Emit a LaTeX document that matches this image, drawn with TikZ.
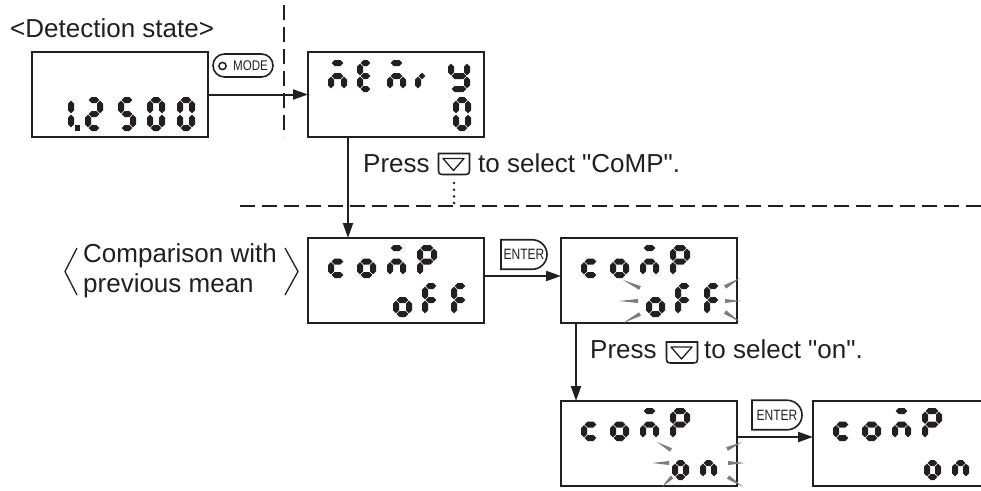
\documentclass[tikz,border=0pt]{standalone}
\usepackage{fontspec}
\setmainfont{Liberation Sans}[Ligatures=TeXOff]
\usetikzlibrary{arrows.meta,calc}
\definecolor{ink}{HTML}{231F20}
\definecolor{flashc}{HTML}{7C7C7C}
\newcommand\sgT{6}
\newcommand\sgG{0.7}
\newcommand\HSeg[3]{\fill[ink] ({#1},{#3}) -- ({#1+\sgT/2},{#3-\sgT/2}) -- ({#2-\sgT/2},{#3-\sgT/2}) -- ({#2},{#3}) -- ({#2-\sgT/2},{#3+\sgT/2}) -- ({#1+\sgT/2},{#3+\sgT/2}) -- cycle;}
\newcommand\VSeg[3]{\fill[ink] ({#1},{#2}) -- ({#1+\sgT/2},{#2+\sgT/2}) -- ({#1+\sgT/2},{#3-\sgT/2}) -- ({#1},{#3}) -- ({#1-\sgT/2},{#3-\sgT/2}) -- ({#1-\sgT/2},{#2+\sgT/2}) -- cycle;}
\newcommand\Sega{\HSeg{\sgT/2+\sgG}{\sgW-\sgT/2-\sgG}{\sgT/2}}
\newcommand\Segg{\HSeg{\sgT/2+\sgG}{\sgW-\sgT/2-\sgG}{\sgH/2}}
\newcommand\Segd{\HSeg{\sgT/2+\sgG}{\sgW-\sgT/2-\sgG}{\sgH-\sgT/2}}
\newcommand\Segf{\VSeg{\sgT/2}{\sgT/2+\sgG}{\sgH/2-\sgG}}
\newcommand\Segb{\VSeg{\sgW-\sgT/2}{\sgT/2+\sgG}{\sgH/2-\sgG}}
\newcommand\Sege{\VSeg{\sgT/2}{\sgH/2+\sgG}{\sgH-\sgT/2-\sgG}}
\newcommand\Segc{\VSeg{\sgW-\sgT/2}{\sgH/2+\sgG}{\sgH-\sgT/2-\sgG}}
\newcommand\Dig[5]{\begin{scope}[shift={(#1,#2)}]\pgfmathsetmacro\sgW{#3}\pgfmathsetmacro\sgH{#4}\foreach \s in {#5}{\csname Seg\s\endcsname}\end{scope}}
\newcommand\CompTop{\Dig{20}{7}{19}{33}{g,e,d}\Dig{49}{7}{19}{33}{g,c,d,e}\Dig{79}{7}{19}{33}{a,g,e,c}\Dig{109}{7}{20}{33}{a,b,f,g,e}}
\newcommand\OffRow{\Dig{85}{45}{19}{34}{g,c,d,e}\Dig{114}{45}{18}{34}{a,f,g,e}\Dig{143}{45}{18}{34}{a,f,g,e}}
\newcommand\OnRow{\Dig{111}{45}{17}{34}{g,c,d,e}\Dig{139}{45}{17}{34}{g,e,c}}
\newcommand\Flash[2]{\fill[flashc] (#1) -- ($(#2)!2pt!90:(#1)$) -- ($(#2)!2pt!-90:(#1)$) -- cycle;}
\begin{document}
\begin{tikzpicture}[x=1pt,y=-1pt,
 lcd/.style={draw=ink, line width=2pt, minimum width=176pt, minimum height=85pt, inner sep=0pt, outer sep=0pt, anchor=north west},
 arr/.style={draw=ink, line width=2pt, -{Triangle[length=15pt,width=10pt]}},
 txt/.style={font=\fontsize{26}{30}\selectfont, text=ink, inner sep=0pt, anchor=base west},
 dsh/.style={draw=ink, line width=1.6pt, dash pattern=on 15pt off 7pt},
 btn/.style={draw=ink, line width=1.6pt},
 keyn/.style={inner sep=0pt, outer sep=0pt, minimum width=31pt, minimum height=21pt},
 entn/.style={inner sep=0pt, outer sep=0pt, minimum height=29.5pt, font=\fontsize{15}{16}\selectfont, text=ink},
 small/.style={font=\fontsize{14}{15}\selectfont, text=ink, inner sep=0pt}]
\useasboundingbox (0,0) rectangle (981,490);
\clip (0,0) rectangle (981,490);
\fill[white] (0,0) rectangle (981,490);

% dashed separators
\coordinate (vd1) at (284,5);
\coordinate (vd2) at (284,137);
\coordinate (hd1) at (240,206);
\coordinate (hd2) at (981,206);
\draw[dsh] (vd1) -- (vd2);
\draw[dsh] (hd1) -- (hd2);

% displays
\node[lcd] (b1) at (32,52) {};
\node[lcd] (b2) at (308,52) {};
\node[lcd] (b3) at (308,238) {};
\node[lcd] (b4) at (561,238) {};
\node[lcd] (b5) at (561,401) {};
\node[lcd] (b6) at (813,401) {};

% digits
\begin{scope}[shift={(b1.north west)}]
 \Dig{24}{45}{18}{34}{b,c}
 \fill[ink] (43,73) rectangle (47.5,78.5);
 \Dig{53}{45}{18}{34}{a,b,g,e,d}
 \Dig{86}{45}{18}{34}{a,f,g,c,d}
 \Dig{115}{45}{18}{34}{a,b,c,d,e,f}
 \Dig{145}{45}{18}{34}{a,b,c,d,e,f}
\end{scope}
\begin{scope}[shift={(b2.north west)}]
 \Dig{20}{8}{19}{32}{a,g,e,c}
 \Dig{49}{8}{17}{32}{a,f,g,e,d}
 \Dig{79}{8}{19}{32}{a,g,e,c}
 \Dig{107}{8}{14}{32}{e,g}
 \Dig{140}{8}{22}{32}{f,b,g,c,d}
 \Dig{145}{45}{18}{34}{a,b,c,d,e,f}
\end{scope}
\begin{scope}[shift={(b3.north west)}]\CompTop\OffRow\end{scope}
\begin{scope}[shift={(b4.north west)}]\CompTop\OffRow\end{scope}
\begin{scope}[shift={(b5.north west)}]\CompTop\OnRow\end{scope}
\begin{scope}[shift={(b6.north west)}]\CompTop\OnRow\end{scope}

% flashing marks
\Flash{623,280}{640,288}
\Flash{619,301}{638,301}
\Flash{623,323}{640,314}
\Flash{740,278}{725,287}
\Flash{741,301}{725,301}
\Flash{740,322}{725,312}
\Flash{657,442}{671,450}
\Flash{652,463}{669,463}
\Flash{662,487}{672,477}
\Flash{742,442}{727,449}
\Flash{745,463}{728,463}
\Flash{743,487}{728,477}

% connectors
\draw[arr] (b1.east) -- (b2.west);
\draw[arr] ([xshift=40pt]b2.south west) -- ([xshift=40pt]b3.north west);
\draw[arr] ([yshift=4.5pt]b3.east) -- ([yshift=4.5pt]b4.west);
\draw[arr] ([xshift=15pt]b4.south west) -- ([xshift=15pt]b5.north west);
\draw[arr] ([yshift=6.5pt]b5.east) -- ([yshift=6.5pt]b6.west);

% MODE key
\node[btn, rounded corners=11.5pt, minimum width=60pt, minimum height=23pt, inner sep=0pt] (mode) at (243,65.5) {};
\draw[ink, line width=1.5pt] (222.5,66) circle[radius=3.6pt];
\node[small] (modet) at (250.5,66) {\scalebox{0.83}[1]{MODE}};

% ENTER keys
\node[entn, minimum width=46pt] (en1) at (524,254.5) {\scalebox{0.8}[1]{ENTER}};
\draw[btn] (en1.north west) -- ([xshift=-14.75pt]en1.north east) arc[start angle=90,end angle=-90,radius=14.75pt] -- (en1.south west) -- cycle;
\node[entn, minimum width=50pt] (en2) at (777,415) {\scalebox{0.8}[1]{ENTER}};
\draw[btn] (en2.north west) -- ([xshift=-14.75pt]en2.north east) arc[start angle=90,end angle=-90,radius=14.75pt] -- (en2.south west) -- cycle;

% down keys
\node[keyn] (dk1) at (454,164) {};
\draw[btn] (dk1.north west) -- ([yshift=7pt]dk1.south west) .. controls (dk1.south west) .. ([xshift=7pt]dk1.south west) -- ([xshift=-7pt]dk1.south east) .. controls (dk1.south east) .. ([yshift=7pt]dk1.south east) -- (dk1.north east) -- cycle;
\draw[ink, line width=1.3pt, line join=round] ($(dk1)+(-11,-5.5)$) -- ($(dk1)+(10,-5.5)$) -- ($(dk1)+(-0.5,6.5)$) -- cycle;
\node[keyn] (dk2) at (682,352.5) {};
\draw[btn] (dk2.north west) -- ([yshift=7pt]dk2.south west) .. controls (dk2.south west) .. ([xshift=7pt]dk2.south west) -- ([xshift=-7pt]dk2.south east) .. controls (dk2.south east) .. ([yshift=7pt]dk2.south east) -- (dk2.north east) -- cycle;
\draw[ink, line width=1.3pt, line join=round] ($(dk2)+(-11,-5.5)$) -- ($(dk2)+(10,-5.5)$) -- ($(dk2)+(-0.5,6.5)$) -- cycle;

% dotted line from key to separator
\coordinate (dotend) at (454,204.5);
\draw[ink, line width=2.8pt, line cap=round, dash pattern=on 0pt off 6.7pt] ([yshift=-8.5pt]dk1.south) -- (dotend);

% texts
\node[txt] (det) at (10,37) {<Detection state>};
\node[txt] (pr1) at (363,172) {Press};
\node[txt] (sel1) at (478,172) {to select "CoMP".};
\node[txt] (pr2) at (590,358) {Press};
\node[txt] (sel2) at (704,358) {to select "on".};
\node[txt] (cmp1) at (83,262) {Comparison with};
\node[txt] (cmp2) at (83,292) {previous mean};
\draw[ink, line width=1.3pt] (77,248) -- (65,271.5) -- (77,295);
\draw[ink, line width=1.3pt] (285,248) -- (298,271.5) -- (285,295);
\end{tikzpicture}
\end{document}
